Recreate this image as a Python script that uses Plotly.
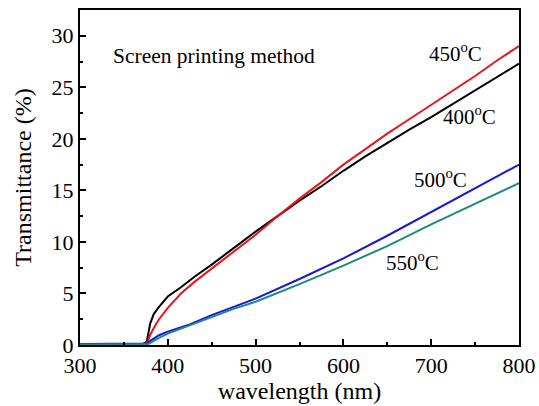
import plotly.graph_objects as go

# 400 °C (black)
wl_400 = [300, 350, 372, 376, 378, 380, 384, 390, 400, 415, 430, 450, 475, 500, 525, 550, 575, 600, 625, 650, 675, 700, 725, 750, 775, 800]
t_400 = [0.1, 0.1, 0.1, 0.3, 1.2, 2.1, 3.0, 3.7, 4.7, 5.6, 6.6, 7.8, 9.4, 11.0, 12.5, 14.0, 15.4, 16.9, 18.3, 19.6, 20.9, 22.1, 23.4, 24.7, 26.0, 27.3]
# 450 °C (red)
wl_450 = [300, 350, 374, 377, 380, 385, 390, 400, 415, 430, 450, 475, 500, 525, 550, 575, 600, 625, 650, 675, 700, 725, 750, 775, 800]
t_450 = [0.1, 0.1, 0.1, 0.3, 1.0, 1.8, 2.5, 3.6, 5.0, 6.1, 7.4, 9.0, 10.7, 12.5, 14.2, 15.8, 17.5, 19.0, 20.5, 21.9, 23.3, 24.7, 26.1, 27.6, 29.0]
# 500 °C (blue)
wl_500 = [300, 340, 376, 380, 385, 390, 400, 425, 450, 475, 500, 550, 600, 650, 700, 750, 800]
t_500 = [0.1, 0.15, 0.15, 0.4, 0.7, 0.95, 1.3, 2.0, 2.9, 3.7, 4.5, 6.4, 8.4, 10.6, 12.9, 15.2, 17.5]
# 550 °C (teal)
wl_550 = [300, 378, 382, 390, 400, 425, 450, 475, 500, 550, 600, 650, 700, 750, 800]
t_550 = [0.05, 0.1, 0.3, 0.7, 1.1, 1.9, 2.7, 3.5, 4.2, 5.9, 7.7, 9.6, 11.7, 13.7, 15.7]

labels = ["400<sup>o</sup>C", "450<sup>o</sup>C", "500<sup>o</sup>C", "550<sup>o</sup>C"]
colors = ["#000000", "#e8141c", "#1717d6", "#1e8a82"]

fig = go.Figure()
for wl, t, lab, c in [(wl_400, t_400, labels[0], colors[0]),
                      (wl_450, t_450, labels[1], colors[1]),
                      (wl_500, t_500, labels[2], colors[2]),
                      (wl_550, t_550, labels[3], colors[3])]:
    fig.add_trace(go.Scatter(x=wl, y=t, mode="lines", name=lab,
                             line=dict(color=c, width=2)))

font = "Liberation Serif"
# (text, x in nm, y in %)
ann = [
    ("Screen printing method", 453, 28.0, 21.5),
    (labels[1], 728, 28.4, 21),
    (labels[0], 744, 22.3, 21),
    (labels[2], 711, 16.2, 21),
    (labels[3], 679, 8.1, 21),
]
for txt, x, y, s in ann:
    fig.add_annotation(x=x, y=y, text=txt,
                       showarrow=False, font=dict(family=font, size=s, color="black"))

axis_common = dict(showline=True, linecolor="black", linewidth=2, mirror=True,
                   ticks="inside", ticklen=6, tickwidth=1.5, tickcolor="black",
                   showgrid=False, zeroline=False, automargin=False,
                   tickfont=dict(family=font, size=22, color="black"),
                   minor=dict(ticks="inside", ticklen=3, tickwidth=1.5, tickcolor="black"))

fig.update_xaxes(range=[300, 800], dtick=100, tick0=300,
                 title=dict(text="wavelength (nm)", font=dict(family=font, size=24, color="black"), standoff=2),
                 **axis_common)
fig.update_xaxes(minor_dtick=50)
fig.update_yaxes(range=[0, 32.5], dtick=5, tick0=0,
                 title=dict(text="Transmittance (%)", font=dict(family=font, size=24, color="black"), standoff=13),
                 **axis_common)
fig.update_yaxes(minor_dtick=2.5)

fig.update_layout(width=539, height=406, margin=dict(l=80, r=20, t=10, b=61),
                  plot_bgcolor="white", paper_bgcolor="white", showlegend=False)

fig.write_html("out.html")
